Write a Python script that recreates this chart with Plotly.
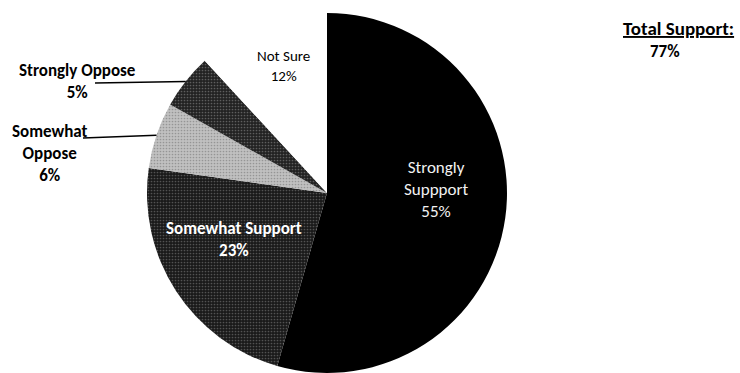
import plotly.graph_objects as go
import math

# ---- data ----
categories = ["Strongly Suppport", "Somewhat Support", "Somewhat Oppose", "Strongly Oppose", "Not Sure"]
values = [55, 23, 6, 5, 12]
label_texts = ["Strongly<br>Suppport<br>55%", "Somewhat Support<br>23%", "Somewhat<br>Oppose<br>6%",
               "Strongly Oppose<br>5%", "Not Sure<br>12%"]
total_title = "Total Support:"
total_value = "77%"

W, H = 740, 373
FONT = "Calibri, Carlito, Lato, 'Open Sans', sans-serif"

# pie geometry (pixels)
cx, cy, R = 327, 193, 180
dom_x = [(cx - R) / W, (cx + R) / W]
dom_y = [1 - (cy + R) / H, 1 - (cy - R) / H]

bg = ["#000000", "#1a1a1a", "#c0c0c0", "#222222", "#ffffff"]
fg = ["#000000", "#8a8a8a", "#6a6a6a", "#9a9a9a", "#ffffff"]
shapes_p = ["", ".", ".", ".", ""]

fig = go.Figure(go.Pie(
    labels=categories, values=values, sort=False, direction="clockwise", rotation=0,
    textinfo="none", hoverinfo="label+percent",
    marker=dict(colors=bg, line=dict(width=0),
                pattern=dict(shape=shapes_p, fgcolor=fg, bgcolor=bg, size=3, solidity=0.25,
                             fillmode="overlay")),
    domain=dict(x=dom_x, y=dom_y), showlegend=False,
))

def px(x):
    return x / W

def py(y):
    return 1 - y / H

# label positions (pixels) and styles
label_pos = [(436, 189), (234, 239), (50, 153), (77, 81), (283, 66)]
label_col = ["#f2f2f2", "#ffffff", "#000000", "#000000", "#000000"]
label_bold = [False, True, True, True, False]
label_size = [17, 17, 17, 17, 15]

anns = []
for t, (x, y), c, b, s in zip(label_texts, label_pos, label_col, label_bold, label_size):
    anns.append(dict(x=px(x), y=py(y), xref="paper", yref="paper", text=(f"<b>{t}</b>" if b else t),
                     showarrow=False, font=dict(family=FONT, size=s, color=c), align="center",
                     xanchor="center", yanchor="middle"))

anns.append(dict(x=px(678), y=py(28), xref="paper", yref="paper", text=f"<b><u>{total_title}</u></b>",
                 showarrow=False, font=dict(family=FONT, size=19, color="#000"), xanchor="center", yanchor="middle"))
anns.append(dict(x=px(665), y=py(52), xref="paper", yref="paper", text=f"<b>{total_value}</b>",
                 showarrow=False, font=dict(family=FONT, size=17, color="#000"), xanchor="center", yanchor="middle"))

# leader lines from labels to the middle of the small slices' outer arc
total = sum(values)
cum = 0
mids = []
for v in values:
    mids.append((cum + v / 2) / total * 2 * math.pi)
    cum += v
leader_start = {3: (95, 83), 2: (83, 138)}
shapes = []
for i, (sx, sy) in leader_start.items():
    a = mids[i]
    ex, ey = cx + R * math.sin(a), cy - R * math.cos(a)
    shapes.append(dict(type="line", xref="paper", yref="paper", x0=px(sx), y0=py(sy), x1=px(ex), y1=py(ey),
                       line=dict(color="#000", width=1.5)))

fig.update_layout(width=W, height=H, margin=dict(l=0, r=0, t=0, b=0), paper_bgcolor="white",
                  plot_bgcolor="white", annotations=anns, shapes=shapes)
fig.write_html("out.html")
